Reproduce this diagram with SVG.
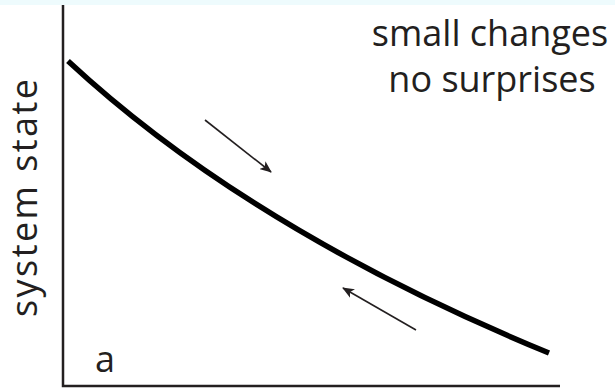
<svg xmlns="http://www.w3.org/2000/svg" width="615" height="390" viewBox="0 0 615 390">
<style>
.lbl{font-family:"Open Sans","Noto Sans",sans-serif;font-size:36px;fill:#231f20}
.axis{stroke:#231f20;stroke-width:2.5;fill:none}
.curve{stroke:#000;stroke-width:5.5;fill:none}
.arr{stroke:#231f20;stroke-width:1.6;fill:none}
</style>
<defs>
<marker id="ah" viewBox="0 0 12 10" refX="11" refY="5" markerWidth="12" markerHeight="10" markerUnits="userSpaceOnUse" orient="auto">
<path d="M0,0 L12,5 L0,10 L3,5 Z" fill="#231f20"/>
</marker>
</defs>
<rect width="615" height="390" fill="#fff"/>
<rect width="615" height="5" fill="#eefbfd"/>
<g id="axes">
<polyline class="axis" points="63,5 63,386 560,386"/>
</g>
<g id="curve">
<path class="curve" d="M68,61 Q250,230 549,353"/>
</g>
<g id="connectors">
<line class="arr" x1="205" y1="120" x2="271" y2="172" marker-end="url(#ah)"/>
<line class="arr" x1="416" y1="330" x2="343" y2="288" marker-end="url(#ah)"/>
</g>
<g id="labels">
<text class="lbl" x="490" y="46" text-anchor="middle">small changes</text>
<text class="lbl" x="492" y="92" text-anchor="middle">no surprises</text>
<text class="lbl" transform="translate(37,198) rotate(-90)" text-anchor="middle" textLength="238" lengthAdjust="spacing">system state</text>
<text class="lbl" x="95" y="372">a</text>
</g>
</svg>
